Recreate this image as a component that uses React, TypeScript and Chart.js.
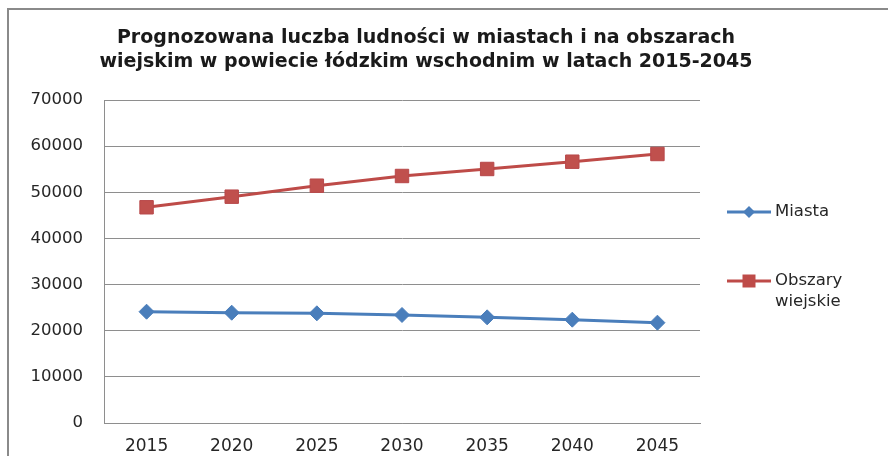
import { useEffect, useRef } from 'react';
import { Chart, registerables } from 'chart.js';

Chart.register(...registerables);

const TITLE_LINES = [
  'Prognozowana luczba ludności w miastach i na obszarach',
  'wiejskim w powiecie łódzkim wschodnim w latach 2015-2045',
];
const YEARS = ['2015', '2020', '2025', '2030', '2035', '2040', '2045'];
const MIASTA = [24120, 23900, 23770, 23410, 22900, 22390, 21740];
const OBSZARY = [46750, 49050, 51430, 53530, 55050, 56630, 58300];
const SERIES_NAMES = ['Miasta', 'Obszary wiejskie'];
const LEGEND_LINES = [['Miasta'], ['Obszary', 'wiejskie']];
const Y_MIN = 0;
const Y_MAX = 70000;
const Y_STEP = 10000;

const BLUE = '#4a7ebb';
const RED = '#be4b48';
const GRID = '#8e8e8e';
const TEXT = '#262626';
const FONT = '"DejaVu Sans", sans-serif';

const chromePlugin = {
  id: 'chrome',
  beforeDraw(chart: any) {
    const ctx = chart.ctx;
    ctx.save();
    ctx.fillStyle = '#ffffff';
    ctx.fillRect(0, 0, chart.width, chart.height);
    ctx.strokeStyle = '#8a8a8a';
    ctx.lineWidth = 2;
    ctx.beginPath();
    ctx.moveTo(8, chart.height + 5);
    ctx.lineTo(8, 9);
    ctx.lineTo(chart.width + 5, 9);
    ctx.stroke();
    ctx.restore();
  },
  afterDraw(chart: any) {
    const ctx = chart.ctx;
    ctx.save();
    // title
    ctx.fillStyle = '#1a1a1a';
    ctx.font = `bold 19px ${FONT}`;
    ctx.textAlign = 'center';
    ctx.textBaseline = 'middle';
    TITLE_LINES.forEach((line, i) => ctx.fillText(line, 426, 38 + i * 24));

    // legend
    const items = chart.data.datasets.map((ds: any, i: number) => ({
      color: ds.borderColor,
      style: ds.pointStyle,
      lines: LEGEND_LINES[i],
    }));
    const ys = [212, 281];
    items.forEach((it: any, i: number) => {
      const y = ys[i];
      ctx.strokeStyle = it.color;
      ctx.lineWidth = 3;
      ctx.beginPath();
      ctx.moveTo(727, y);
      ctx.lineTo(771, y);
      ctx.stroke();
      ctx.fillStyle = it.color;
      const cx = 749;
      ctx.beginPath();
      if (it.style === 'rectRot') {
        const r = 6;
        ctx.moveTo(cx - r, y);
        ctx.lineTo(cx, y - r);
        ctx.lineTo(cx + r, y);
        ctx.lineTo(cx, y + r);
        ctx.closePath();
      } else {
        const s = 6.5;
        ctx.rect(cx - s, y - s, 2 * s, 2 * s);
      }
      ctx.fill();
      ctx.fillStyle = TEXT;
      ctx.font = `16.5px ${FONT}`;
      ctx.textAlign = 'left';
      ctx.textBaseline = 'middle';
      it.lines.forEach((t: string, j: number) => ctx.fillText(t, 775, y + j * 21));
    });
    ctx.restore();
  },
};

export default function App() {
  const ref = useRef<HTMLCanvasElement | null>(null);
  useEffect(() => {
    if (!ref.current) return;
    const chart = new Chart(ref.current, {
      type: 'line',
      data: {
        labels: YEARS,
        datasets: [
          {
            label: SERIES_NAMES[0],
            data: MIASTA,
            borderColor: BLUE,
            backgroundColor: BLUE,
            borderWidth: 3,
            pointStyle: 'rectRot',
            pointRadius: 7.5,
            pointBorderWidth: 1,
            pointBackgroundColor: BLUE,
            pointBorderColor: BLUE,
            tension: 0,
          },
          {
            label: SERIES_NAMES[1],
            data: OBSZARY,
            borderColor: RED,
            backgroundColor: '#c0504d',
            borderWidth: 3,
            pointStyle: 'rect',
            pointRadius: 9.5,
            pointBorderWidth: 1,
            pointBackgroundColor: '#c0504d',
            pointBorderColor: '#b8484a',
            tension: 0,
          },
        ],
      },
      options: {
        animation: false,
        responsive: true,
        maintainAspectRatio: false,
        layout: { padding: { top: 100, right: 188, left: 0, bottom: 0 } },
        plugins: {
          legend: { display: false },
          title: { display: false },
          tooltip: { enabled: false },
        },
        scales: {
          x: {
            offset: true,
            grid: { display: false, drawTicks: false },
            border: { display: true, color: GRID, width: 1 },
            ticks: { color: TEXT, font: { family: FONT, size: 17 }, padding: 13, maxRotation: 0 },
            afterFit: (s: any) => {
              s.height = 33;
            },
          },
          y: {
            min: Y_MIN,
            max: Y_MAX,
            grid: { color: GRID, lineWidth: 1, drawTicks: false },
            border: { display: true, color: GRID, width: 1 },
            ticks: {
              stepSize: Y_STEP,
              color: TEXT,
              font: { family: FONT, size: 16.5 },
              padding: 21,
              callback: (v: any) => String(v),
            },
            afterFit: (s: any) => {
              s.width = 104;
            },
          },
        },
      },
      plugins: [chromePlugin],
    });
    return () => chart.destroy();
  }, []);
  return (
    <div style={{ position: 'fixed', left: 0, top: 0, width: 888, height: 456, background: '#fff' }}>
      <canvas ref={ref} />
    </div>
  );
}
